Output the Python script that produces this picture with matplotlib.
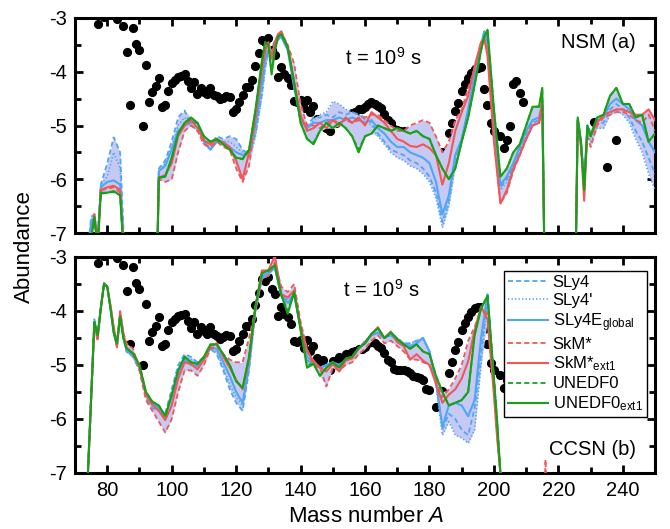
import matplotlib
matplotlib.use('Agg')
import matplotlib.pyplot as plt
import numpy as np
from matplotlib.ticker import MultipleLocator, FormatStrFormatter

plt.rcParams['font.family'] = 'Liberation Sans'
plt.rcParams['mathtext.fontset'] = 'custom'
plt.rcParams['mathtext.rm'] = 'Liberation Sans'
plt.rcParams['mathtext.it'] = 'Liberation Sans:italic'
plt.rcParams['axes.unicode_minus'] = False

# solar r-process abundances (black dots)
A_solar = [77, 79, 83, 85, 86, 87, 88, 89, 90, 91, 92, 93, 94, 95, 96, 97, 98, 99, 100,
           101, 102, 103, 104, 105, 106, 107, 108, 109, 110, 111, 112, 113, 114, 115, 116,
           117, 118, 119, 120, 121, 122, 123, 124, 125, 126, 127, 128, 129, 130, 131, 132,
           133, 134, 135, 136, 137, 138, 139, 140, 141, 142, 143, 144, 145, 146, 147, 148,
           149, 150, 151, 152, 153, 154, 155, 156, 157, 158, 159, 160, 161, 162, 163, 164,
           165, 166, 167, 168, 169, 170, 171, 172, 173, 174, 175, 176, 177, 178, 179, 180,
           182, 184, 186, 187, 188, 189, 190, 191, 192, 193, 194, 195, 196, 197, 198, 199,
           200, 202, 203, 204, 205, 206, 207, 208, 209, 231, 235, 238]
Y_solar = [-3.12, -2.99, -3.01, -3.15, -3.63, -4.61, -3.19, -3.48, -3.60, -5.00, -3.87, -4.56,
           -4.38, -4.27, -4.11, -4.65, -4.62, -4.36, -4.21,
           -4.15, -4.09, -4.08, -4.05, -4.18, -4.31, -4.20, -4.42, -4.30, -4.37, -4.42, -4.30,
           -4.43, -4.46, -4.51, -4.49,
           -4.45, -4.47, -4.75, -4.70, -4.56, -4.43, -4.28, -4.28, -4.15, -3.89, -3.66, -3.41,
           -3.45, -3.37, -3.60, -3.68,
           -4.09, -3.92, -4.05, -4.12, -4.25, -4.55, -4.57, -4.53, -4.68, -4.53, -4.75, -4.64,
           -4.87, -4.98, -4.90, -5.05,
           -5.10, -4.92, -4.96, -4.85, -4.88, -4.80, -4.80, -4.76, -4.75, -4.70, -4.70, -4.66,
           -4.60, -4.57, -4.60, -4.64,
           -4.68, -4.78, -4.90, -4.95, -5.07, -5.09, -5.10, -5.10, -5.12, -5.15, -5.20, -5.23,
           -5.25, -5.28, -5.44, -5.47,
           -5.78, -5.49, -5.14, -4.95, -4.73, -4.58, -4.36, -4.22, -4.12, -4.02, -3.95, -3.93,
           -3.92, -4.33, -4.61, -4.96,
           -5.10, -5.19, -5.42, -5.27, -5.00, -4.22, -4.18, -4.40, -4.56, -4.94, -5.78, -5.27]

# ---- NSM (a) ----
A_nsm = [74, 75, 76, 77, 78, 80, 82, 84, 85, 86, 95,
         96, 98, 100, 102, 104, 106, 108, 110, 112, 114, 116, 118, 120, 122, 124, 126, 128,
         129, 130, 131, 132, 133, 134,
         136, 138, 140, 142, 144, 146, 148, 150, 152, 154, 156, 158, 160, 162, 164, 166,
         168, 170, 172, 174, 176, 178, 180, 182, 184, 186, 188, 190, 192, 194, 196,
         197, 198, 200, 202, 204, 206, 208, 210, 212, 214, 215, 216,
         225, 226, 227, 228, 229, 230, 232, 234, 236, 238, 240, 242, 244, 246, 248, 250]

sly4_nsm = [-7.3, -6.7, -6.65, -7.1, -6.1, -5.7, -5.22, -5.5, -6.9, -9, -9,
            -5.8, -5.65, -5.3, -4.85, -4.72, -5.0, -5.05, -5.25, -5.35, -5.2, -5.25, -5.2,
            -5.25, -5.45, -5.55, -5.15, -4.4,
            -3.9, -3.6, -3.6, -3.4, -3.35, -3.25,
            -3.5, -4.2, -4.85, -5.0, -4.85, -4.85, -4.8, -4.85, -4.75, -4.8, -4.75, -4.8,
            -4.85, -4.95, -5.15, -5.3, -5.45, -5.5, -5.55, -5.65, -5.7, -5.8, -5.95, -6.25,
            -6.8, -6.4, -5.6, -5.25, -4.75, -4.1, -3.5,
            -3.25, -3.4, -5.0, -6.15, -6.0, -5.75, -5.45, -5.15, -4.95, -4.9, -4.7, -9,
            -9, -4.95, -5.35, -6.0, -5.1, -5.2, -4.95, -4.95, -4.7, -4.6, -4.7, -4.85, -5.1,
            -5.3, -5.6, -5.9]
sly4p_nsm = [-7.4, -6.75, -6.65, -7.15, -6.1, -5.95, -5.5, -5.8, -7.05, -9, -9,
             -5.85, -5.7, -5.4, -5.0, -4.85, -5.0, -5.1, -5.35, -5.45, -5.3, -5.3, -5.3,
             -5.4, -5.5, -5.6, -5.2, -4.45,
             -3.95, -3.65, -3.7, -3.45, -3.4, -3.3,
             -3.55, -4.25, -4.9, -5.05, -4.9, -4.8, -4.75, -4.55, -4.6, -4.7, -4.75, -4.8,
             -4.9, -5.0, -5.2, -5.35, -5.5, -5.6, -5.65, -5.75, -5.8, -5.9, -6.05, -6.35,
             -6.9, -6.5, -5.7, -5.3, -4.8, -4.15, -3.55,
             -3.3, -3.45, -5.05, -6.2, -6.05, -5.8, -5.5, -5.2, -5.0, -4.95, -4.75, -9,
             -9, -5.0, -5.4, -6.05, -5.15, -5.3, -5.05, -5.05, -4.8, -4.7, -4.8, -4.95, -5.25,
             -5.5, -5.9, -6.2]
sly4e_nsm = [-7.5, -6.8, -6.7, -7.2, -6.15, -6.05, -6.02, -6.1, -7.1, -9, -9,
             -5.85, -5.75, -5.45, -5.1, -5.0, -4.95, -4.95, -5.3, -5.45, -5.3, -5.3, -5.4,
             -5.5, -5.55, -5.5, -5.0, -4.2,
             -3.75, -3.6, -3.75, -3.5, -3.4, -3.35,
             -3.6, -4.3, -4.9, -5.05, -4.95, -4.95, -4.9, -4.9, -4.85, -4.9, -4.85, -4.9,
             -4.95, -4.9, -5.05, -5.15, -5.3, -5.4, -5.4, -5.5, -5.55, -5.6, -5.7, -6.05,
             -6.65, -6.3, -5.55, -5.25, -4.7, -4.05, -3.5,
             -3.25, -3.45, -5.0, -6.1, -5.95, -5.7, -5.4, -5.1, -4.9, -4.85, -4.6, -9,
             -9, -4.9, -5.3, -6.0, -5.0, -5.15, -4.9, -4.85, -4.6, -4.5, -4.6, -4.7, -4.9,
             -5.0, -5.3, -5.5]
skm_nsm = [-7.8, -7.1, -6.65, -7.2, -6.2, -6.18, -6.15, -6.25, -7.2, -9, -9,
           -6.0, -6.05, -6.0, -5.5, -5.1, -5.0, -5.1, -5.35, -5.4, -5.3, -5.4, -5.45,
           -5.8, -6.05, -5.75, -4.9, -4.0,
           -3.65, -3.5, -3.7, -3.45, -3.35, -3.3,
           -3.5, -3.85, -4.6, -5.0, -5.0, -5.05, -4.95, -4.9, -4.95, -4.9, -4.95, -4.9,
           -4.85, -4.8, -4.8, -4.9, -5.0, -5.1, -5.1, -5.0, -4.95, -4.9, -4.95, -5.2,
           -5.5, -5.3, -4.9, -4.7, -4.3, -3.95, -3.45,
           -3.4, -3.6, -5.2, -6.45, -6.25, -5.85, -5.55, -5.25, -5.0, -4.95, -4.55, -9,
           -9, -4.95, -5.4, -6.1, -5.2, -5.4, -5.0, -4.85, -4.8, -4.75, -4.75, -4.8, -4.9,
           -4.95, -4.8, -5.1]
skm_ext1_nsm = [-7.8, -7.1, -6.65, -7.2, -6.2, -6.15, -6.12, -6.2, -7.2, -9, -9,
                -5.97, -5.92, -5.7, -5.2, -5.0, -4.9, -5.05, -5.28, -5.35, -5.25, -5.32, -5.4,
                -5.65, -6.0, -5.5, -4.8, -3.95,
                -3.6, -3.45, -3.75, -3.45, -3.3, -3.25,
                -3.55, -4.2, -4.8, -5.1, -5.05, -4.95, -5.05, -4.9, -5.0, -4.85, -4.95, -4.85,
                -5.0, -4.75, -4.85, -4.95, -5.1, -5.25, -5.3, -5.38, -5.4, -5.35, -5.42, -5.55,
                -6.1, -5.7, -5.1, -4.75, -4.45, -3.9, -3.45,
                -3.38, -3.7, -5.3, -6.45, -6.2, -5.8, -5.55, -5.25, -5.0, -4.95, -4.55, -9,
                -9, -4.9, -5.35, -6.4, -5.05, -5.2, -4.95, -4.8, -4.75, -4.7, -4.7, -4.75, -4.8,
                -4.8, -4.7, -4.9]
unedf0_nsm = [-7.8, -7.1, -6.72, -7.3, -6.27, -6.25, -6.24, -6.3, -7.3, -9, -9,
              -5.98, -5.95, -5.62, -5.15, -4.95, -4.87, -4.97, -5.2, -5.3, -5.27, -5.35, -5.45,
              -5.6, -5.63, -5.45, -4.72, -3.82,
              -3.45, -3.5, -4.0, -3.6, -3.35, -3.3,
              -3.55, -4.2, -4.95, -5.25, -5.32, -5.1, -4.95, -5.05, -4.95, -5.05, -5.2, -5.45,
              -5.2, -5.15, -5.0, -5.05, -5.1, -5.05, -5.1, -5.15, -5.1, -5.2, -5.25, -5.55,
              -5.8, -6.0, -5.8, -5.3, -4.85, -4.25, -3.6,
              -3.35, -3.22, -4.7, -5.95, -5.8, -5.5, -5.35, -5.0, -4.65, -4.65, -4.3, -9,
              -9, -4.85, -5.3, -6.2, -5.0, -5.2, -4.85, -4.8, -4.45, -4.3, -4.6, -4.6, -4.85,
              -4.8, -5.3, -5.15]
unedf0_ext1_nsm = [-7.8, -7.1, -6.7, -7.3, -6.25, -6.25, -6.22, -6.3, -7.3, -9, -9,
                   -5.97, -5.95, -5.6, -5.15, -4.95, -4.85, -4.95, -5.2, -5.3, -5.25, -5.35, -5.45,
                   -5.6, -5.62, -5.45, -4.7, -3.8,
                   -3.45, -3.5, -4.05, -3.6, -3.35, -3.3,
                   -3.55, -4.2, -4.95, -5.25, -5.35, -5.1, -4.95, -5.05, -4.95, -5.05, -5.2, -5.5,
                   -5.2, -5.15, -5.0, -5.05, -5.1, -5.05, -5.1, -5.15, -5.1, -5.2, -5.25, -5.55,
                   -5.8, -6.0, -5.8, -5.3, -4.85, -4.25, -3.6,
                   -3.35, -3.22, -4.7, -5.95, -5.8, -5.5, -5.35, -5.0, -4.65, -4.65, -4.3, -9,
                   -9, -4.85, -5.3, -6.2, -5.0, -5.2, -4.85, -4.8, -4.45, -4.3, -4.6, -4.6, -4.85,
                   -4.8, -5.3, -5.15]

# ---- CCSN (b) ----
A_ccsn = [73, 74, 76, 77, 78, 79, 80, 81, 82, 83, 84, 85, 86,
          88, 90, 92, 94, 96, 98, 100, 102, 104, 106, 108, 110, 112, 114, 116, 118, 120,
          122, 124, 126, 128, 130, 132, 134, 136, 138, 140, 142, 144, 146, 148, 150, 152,
          154, 156, 158, 160, 162, 164, 166, 168, 170, 172, 174, 176, 178, 180, 182, 184,
          186, 188, 190, 192, 194, 196, 198, 200,
          201, 202, 203, 215, 216, 217]

sly4_ccsn = [-9, -7.0, -4.15, -4.45, -3.95, -3.5, -3.55, -3.95, -4.4, -4.65, -4.1, -4.5, -4.75,
             -4.85, -5.1, -5.6, -5.8, -5.85, -5.9, -5.45, -5.0, -4.8, -4.85, -4.95, -4.85,
             -4.7, -4.8, -5.1, -5.45, -5.7,
             -5.85, -5.1, -4.0, -3.4, -3.3, -3.2, -3.72, -3.8, -3.7, -4.3, -4.9, -5.0, -5.05,
             -5.0, -4.95, -5.0,
             -4.9, -4.85, -4.7, -4.55, -4.45, -4.4, -4.5, -4.4, -4.5, -4.6, -4.6, -4.55, -4.5,
             -4.75, -5.3, -6.2,
             -5.9, -6.0, -6.2, -6.3, -5.8, -4.8, -3.7, -5.3,
             -6.2, -7.0, -9, -9, -9, -9]
sly4p_ccsn = [-9, -7.0, -4.15, -4.45, -3.95, -3.5, -3.55, -3.95, -4.4, -4.65, -4.1, -4.5, -4.75,
              -4.85, -5.1, -5.6, -5.75, -5.8, -5.9, -5.5, -5.05, -4.85, -4.9, -4.95, -4.85,
              -4.7, -4.75, -5.05, -5.35, -5.6,
              -5.75, -5.05, -4.0, -3.4, -3.3, -3.2, -3.72, -3.8, -3.7, -4.3, -4.9, -5.0, -5.05,
              -5.0, -4.95, -5.0,
              -4.9, -4.85, -4.7, -4.55, -4.45, -4.4, -4.5, -4.4, -4.5, -4.6, -4.6, -4.55, -4.5,
              -4.75, -5.35, -6.3,
              -6.05, -6.3, -6.35, -6.45, -6.2, -5.0, -3.75, -5.3,
              -6.2, -7.0, -9, -9, -9, -9]
sly4e_ccsn = [-9, -7.0, -4.2, -4.5, -3.95, -3.48, -3.55, -3.95, -4.4, -4.65, -4.1, -4.5, -4.75,
              -4.82, -5.05, -5.55, -5.7, -5.8, -5.95, -5.6, -5.15, -4.9, -5.0, -5.02, -4.9,
              -4.68, -4.7, -4.95, -5.2, -5.5,
              -5.7, -5.0, -3.95, -3.35, -3.3, -3.2, -3.72, -3.85, -3.7, -4.3, -4.85, -4.95,
              -5.05, -5.0, -4.95, -5.0,
              -4.9, -4.85, -4.7, -4.6, -4.45, -4.4, -4.5, -4.45, -4.55, -4.6, -4.65, -4.6,
              -4.5, -4.75, -5.3, -6.15,
              -5.75, -5.7, -5.75, -5.95, -5.65, -4.5, -3.69, -5.3,
              -6.2, -7.0, -9, -9, -9, -9]
skm_ccsn = [-9, -7.0, -4.3, -4.55, -3.95, -3.5, -3.55, -3.9, -4.3, -4.6, -4.0, -4.4, -4.6,
            -4.7, -5.1, -5.65, -5.85, -6.05, -6.25, -6.0, -5.5, -5.1, -5.1, -5.2, -5.0,
            -4.7, -4.65, -4.8, -4.9, -4.95,
            -4.95, -4.5, -3.95, -3.4, -3.35, -3.1, -3.55, -3.65, -3.5, -4.2, -4.7, -5.0,
            -5.05, -5.4, -5.05, -5.1,
            -5.0, -4.95, -4.8, -4.7, -4.55, -4.45, -4.6, -4.55, -4.65, -4.75, -4.9, -4.9,
            -4.95, -5.0, -5.3, -5.6,
            -5.45, -5.25, -5.0, -4.55, -4.3, -3.95, -4.05, -5.45,
            -6.3, -7.0, -9, -9, -6.75, -9]
skm_ext1_ccsn = [-9, -7.0, -4.24, -4.52, -3.93, -3.49, -3.55, -3.9, -4.3, -4.67, -4.02, -4.43,
                 -4.67,
                 -4.8, -5.05, -5.55, -5.74, -5.85, -6.02, -5.75, -5.25, -4.95, -4.98, -5.08,
                 -4.9, -4.65, -4.6, -4.85, -5.05, -5.28,
                 -5.45, -4.9, -3.95, -3.25, -3.25, -2.98, -3.69, -3.75, -3.62, -4.3, -4.75,
                 -4.92, -5.05, -5.12, -4.98, -5.12,
                 -4.92, -4.88, -4.7, -4.58, -4.43, -4.3, -4.5, -4.38, -4.58, -4.65, -4.9, -4.8,
                 -4.92, -5.0, -5.35, -5.7,
                 -5.55, -5.45, -5.25, -4.93, -4.36, -3.92, -4.15, -5.55,
                 -6.35, -7.0, -9, -9, -9, -9]
unedf0_ccsn = [-9, -7.0, -4.2, -4.45, -3.95, -3.5, -3.55, -3.95, -4.4, -4.6, -4.1, -4.5, -4.7,
               -4.78, -5.0, -5.5, -5.68, -5.75, -5.95, -5.55, -5.1, -4.85, -4.95, -4.98, -4.85,
               -4.62, -4.62, -4.8, -5.0, -5.3,
               -5.42, -4.85, -3.9, -3.3, -3.25, -3.15, -3.7, -4.0, -3.65, -4.35, -5.0, -4.98,
               -5.2, -5.05, -4.95, -5.05,
               -4.88, -4.85, -4.68, -4.6, -4.42, -4.32, -4.5, -4.4, -4.52, -4.62, -4.7, -4.62,
               -4.75, -4.8, -5.2, -5.5,
               -5.75, -5.7, -5.65, -5.5, -4.45, -3.95, -3.72, -5.25,
               -6.05, -7.0, -9, -9, -9, -9]
unedf0_ext1_ccsn = [-9, -7.0, -4.2, -4.45, -3.95, -3.5, -3.55, -3.95, -4.4, -4.6, -4.1, -4.5,
                    -4.7,
                    -4.78, -5.0, -5.5, -5.68, -5.75, -5.95, -5.55, -5.1, -4.85, -4.95, -4.98,
                    -4.85, -4.62, -4.62, -4.8, -5.0, -5.3,
                    -5.42, -4.85, -3.9, -3.3, -3.25, -3.15, -3.7, -4.05, -3.65, -4.35, -5.05,
                    -4.98, -5.2, -5.05, -4.95, -5.05,
                    -4.88, -4.85, -4.68, -4.6, -4.42, -4.32, -4.5, -4.4, -4.52, -4.62, -4.7,
                    -4.62, -4.75, -4.8, -5.2, -5.5,
                    -5.75, -5.7, -5.65, -5.5, -4.45, -3.95, -3.72, -5.25,
                    -6.05, -7.0, -9, -9, -9, -9]

labels = ['SLy4', "SLy4'", r'SLy4E$_{\rm global}$', 'SkM*', r'SkM*$_{\rm ext1}$',
          'UNEDF0', r'UNEDF0$_{\rm ext1}$']
blue = '#4ea6f5'
red = '#f45656'
green = '#18a018'
band_col = '#c6c9f2'
styles = [(blue, (0, (2.8, 1.7)), 1.3), (blue, (0, (0.8, 1.3)), 1.2), (blue, '-', 1.5),
          (red, (0, (2.8, 1.7)), 1.3), (red, '-', 1.5),
          (green, (0, (2.8, 1.7)), 1.3), (green, '-', 1.5)]

fig = plt.figure(figsize=(6.7, 5.29), dpi=100)
ax1 = fig.add_axes([0.112, 0.5595, 0.8657, 0.4065])
ax2 = fig.add_axes([0.112, 0.1059, 0.8657, 0.4083])


def draw(ax, A, series):
    ys = np.array(series)
    ax.fill_between(A, ys.min(axis=0), ys.max(axis=0), color=band_col, lw=0, zorder=2)
    ax.plot(A_solar, Y_solar, 'o', color='k', ms=5.6, mec='k', zorder=1.5)
    lines = []
    for y, (c, ls, lw) in zip(series, styles):
        ln, = ax.plot(A, y, color=c, ls=ls, lw=lw, zorder=3)
        lines.append(ln)
    ax.set_xlim(70, 250)
    ax.set_ylim(-7, -3)
    ax.xaxis.set_major_locator(MultipleLocator(20))
    ax.xaxis.set_minor_locator(MultipleLocator(10))
    ax.yaxis.set_major_locator(MultipleLocator(1))
    ax.yaxis.set_minor_locator(MultipleLocator(0.5))
    ax.yaxis.set_major_formatter(FormatStrFormatter('%d'))
    ax.tick_params(which='both', direction='in', top=True, right=True, width=2,
                   labelsize=14.5)
    ax.tick_params(which='major', length=6, pad=6)
    ax.tick_params(which='minor', length=4)
    for s in ax.spines.values():
        s.set_linewidth(2.2)
    return lines


draw(ax1, A_nsm, [sly4_nsm, sly4p_nsm, sly4e_nsm, skm_nsm, skm_ext1_nsm,
                  unedf0_nsm, unedf0_ext1_nsm])
ax1.tick_params(labelbottom=False)
ax1.text(165.5, -3.74, r't = 10$^9$ s', fontsize=14.5, ha='center', va='center')
ax1.text(244, -3.45, 'NSM (a)', fontsize=14.5, ha='right', va='center')

lines = draw(ax2, A_ccsn, [sly4_ccsn, sly4p_ccsn, sly4e_ccsn, skm_ccsn, skm_ext1_ccsn,
                           unedf0_ccsn, unedf0_ext1_ccsn])
ax2.text(165, -3.61, r't = 10$^9$ s', fontsize=14.5, ha='center', va='center')
ax2.text(244, -6.57, 'CCSN (b)', fontsize=14.5, ha='right', va='center')
leg = ax2.legend(lines, labels, loc='upper right', bbox_to_anchor=(0.986, 0.935),
                 fontsize=12, handlelength=2.4, labelspacing=0.18, handletextpad=0.3,
                 borderpad=0.25, borderaxespad=0, fancybox=False, framealpha=1)
leg.get_frame().set_edgecolor('k')
leg.get_frame().set_linewidth(1)

fig.text(0.037, 1 - 247 / 529, 'Abundance', rotation=90, fontsize=16,
         ha='center', va='center')
fig.text(366 / 670, 1 - 517 / 529, r'Mass number $A$', fontsize=16,
         ha='center', va='center')

fig.savefig('out.png', dpi=100)
